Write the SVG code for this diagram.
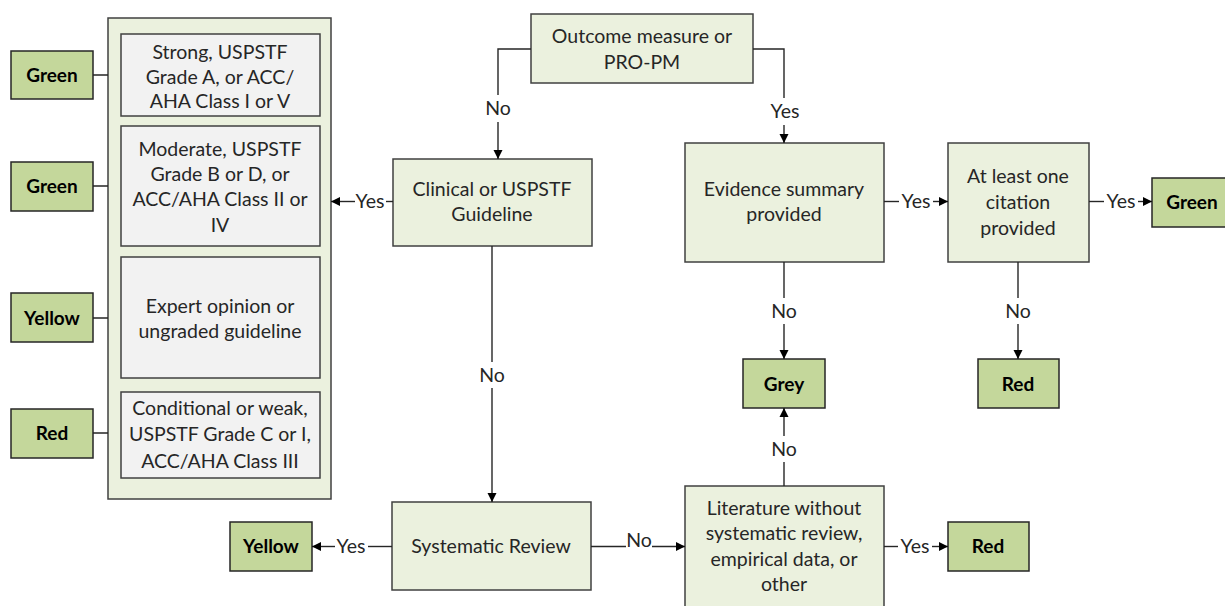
<svg xmlns="http://www.w3.org/2000/svg" width="1225" height="606" viewBox="0 0 1225 606">
<style>
.box{fill:#EBF1DE;stroke:#404040;stroke-width:1.5}
.inner{fill:#F2F2F2;stroke:#404040;stroke-width:1.5}
.res{fill:#C4D79B;stroke:#262626;stroke-width:1.5}
.t{font-family:Lato,"Liberation Sans",sans-serif;font-size:19.5px;fill:#262626;text-anchor:middle}
.b{font-family:Lato,"Liberation Sans",sans-serif;font-size:19px;font-weight:bold;fill:#000;text-anchor:middle}
.c{fill:none;stroke:#262626;stroke-width:1.4}
</style>
<defs>
<marker id="ah" markerUnits="userSpaceOnUse" markerWidth="10" markerHeight="10" refX="9" refY="5" orient="auto">
<path d="M0,0.5 L9,5 L0,9.5 z" fill="#000"/>
</marker>
</defs>
<rect width="1225" height="606" fill="#fff"/>

<g id="guideline-panel">
<rect class="box" x="108" y="18" width="223" height="481"/>
</g>
<g id="strong">
<rect class="inner" x="121" y="34" width="199" height="82"/>
<text class="t" x="220" y="59">Strong, USPSTF</text>
<text class="t" x="220" y="84">Grade A, or ACC/</text>
<text class="t" x="220" y="108">AHA Class I or V</text>
</g>
<g id="moderate">
<rect class="inner" x="121" y="126" width="199" height="120"/>
<text class="t" x="220" y="156">Moderate, USPSTF</text>
<text class="t" x="220" y="181">Grade B or D, or</text>
<text class="t" x="220" y="206">ACC/AHA Class II or</text>
<text class="t" x="220" y="232">IV</text>
</g>
<g id="expert">
<rect class="inner" x="121" y="257" width="199" height="121"/>
<text class="t" x="220" y="313">Expert opinion or</text>
<text class="t" x="220" y="338">ungraded guideline</text>
</g>
<g id="conditional">
<rect class="inner" x="121" y="392" width="199" height="86"/>
<text class="t" x="220" y="415">Conditional or weak,</text>
<text class="t" x="220" y="441">USPSTF Grade C or I,</text>
<text class="t" x="220" y="468">ACC/AHA Class III</text>
</g>

<g id="green1"><rect class="res" x="11" y="51" width="82" height="48"/><text class="b" x="52" y="82">Green</text></g>
<g id="green2"><rect class="res" x="11" y="162" width="82" height="49"/><text class="b" x="52" y="193">Green</text></g>
<g id="yellow1"><rect class="res" x="11" y="293" width="82" height="49"/><text class="b" x="52" y="325">Yellow</text></g>
<g id="red1"><rect class="res" x="11" y="409" width="82" height="49"/><text class="b" x="52" y="440">Red</text></g>

<g id="outcome">
<rect class="box" x="531" y="14" width="222" height="69"/>
<text class="t" x="642" y="43">Outcome measure or</text>
<text class="t" x="642" y="69">PRO-PM</text>
</g>
<g id="clinical">
<rect class="box" x="393" y="159" width="199" height="87"/>
<text class="t" x="492" y="196">Clinical or USPSTF</text>
<text class="t" x="492" y="221">Guideline</text>
</g>
<g id="evidence">
<rect class="box" x="685" y="143" width="199" height="119"/>
<text class="t" x="784" y="196">Evidence summary</text>
<text class="t" x="784" y="221">provided</text>
</g>
<g id="citation">
<rect class="box" x="948" y="143" width="141" height="119"/>
<text class="t" x="1018" y="183">At least one</text>
<text class="t" x="1018" y="209">citation</text>
<text class="t" x="1018" y="235">provided</text>
</g>
<g id="green3"><rect class="res" x="1152" y="178" width="82" height="49"/><text class="b" x="1192" y="209">Green</text></g>
<g id="grey"><rect class="res" x="743" y="359" width="82" height="49"/><text class="b" x="784" y="391">Grey</text></g>
<g id="red2"><rect class="res" x="978" y="359" width="81" height="49"/><text class="b" x="1018" y="391">Red</text></g>
<g id="systematic">
<rect class="box" x="392" y="502" width="199" height="88"/>
<text class="t" x="491" y="553">Systematic Review</text>
</g>
<g id="literature">
<rect class="box" x="685" y="486" width="199" height="125"/>
<text class="t" x="784" y="515">Literature without</text>
<text class="t" x="784" y="540">systematic review,</text>
<text class="t" x="784" y="566">empirical data, or</text>
<text class="t" x="784" y="591">other</text>
</g>
<g id="yellow2"><rect class="res" x="230" y="522" width="82" height="49"/><text class="b" x="271" y="553">Yellow</text></g>
<g id="red3"><rect class="res" x="948" y="522" width="81" height="49"/><text class="b" x="988" y="553">Red</text></g>

<g id="connectors">
<path class="c" d="M93,75 H108 M93,186 H108 M93,318 H108 M93,433 H108"/>
<path class="c" d="M531,49 H498 V95"/>
<path class="c" d="M498,122 V159" marker-end="url(#ah)"/>
<text class="t" x="498" y="115">No</text>
<path class="c" d="M753,49 H784 V98"/>
<path class="c" d="M784,125 V143" marker-end="url(#ah)"/>
<text class="t" x="785" y="118">Yes</text>
<path class="c" d="M393,201.5 H386"/>
<path class="c" d="M355,201.5 H331" marker-end="url(#ah)"/>
<text class="t" x="370" y="208">Yes</text>
<path class="c" d="M492,246 V362"/>
<path class="c" d="M492,388 V502" marker-end="url(#ah)"/>
<text class="t" x="492" y="382">No</text>
<path class="c" d="M392,546.5 H368"/>
<path class="c" d="M335,546.5 H312" marker-end="url(#ah)"/>
<text class="t" x="351" y="553">Yes</text>
<path class="c" d="M591,546.5 H626"/>
<path class="c" d="M652,546.5 H685" marker-end="url(#ah)"/>
<text class="t" x="639" y="547">No</text>
<path class="c" d="M784,486 V462"/>
<path class="c" d="M784,436 V408" marker-end="url(#ah)"/>
<text class="t" x="784" y="456">No</text>
<path class="c" d="M884,546.5 H898"/>
<path class="c" d="M932,546.5 H948" marker-end="url(#ah)"/>
<text class="t" x="915" y="553">Yes</text>
<path class="c" d="M884,201.5 H899"/>
<path class="c" d="M933,201.5 H948" marker-end="url(#ah)"/>
<text class="t" x="916" y="208">Yes</text>
<path class="c" d="M1089,201.5 H1104"/>
<path class="c" d="M1138,201.5 H1152" marker-end="url(#ah)"/>
<text class="t" x="1121" y="208">Yes</text>
<path class="c" d="M784,262 V298"/>
<path class="c" d="M784,324 V359" marker-end="url(#ah)"/>
<text class="t" x="784" y="318">No</text>
<path class="c" d="M1018,262 V298"/>
<path class="c" d="M1018,324 V359" marker-end="url(#ah)"/>
<text class="t" x="1018" y="318">No</text>
</g>
</svg>
